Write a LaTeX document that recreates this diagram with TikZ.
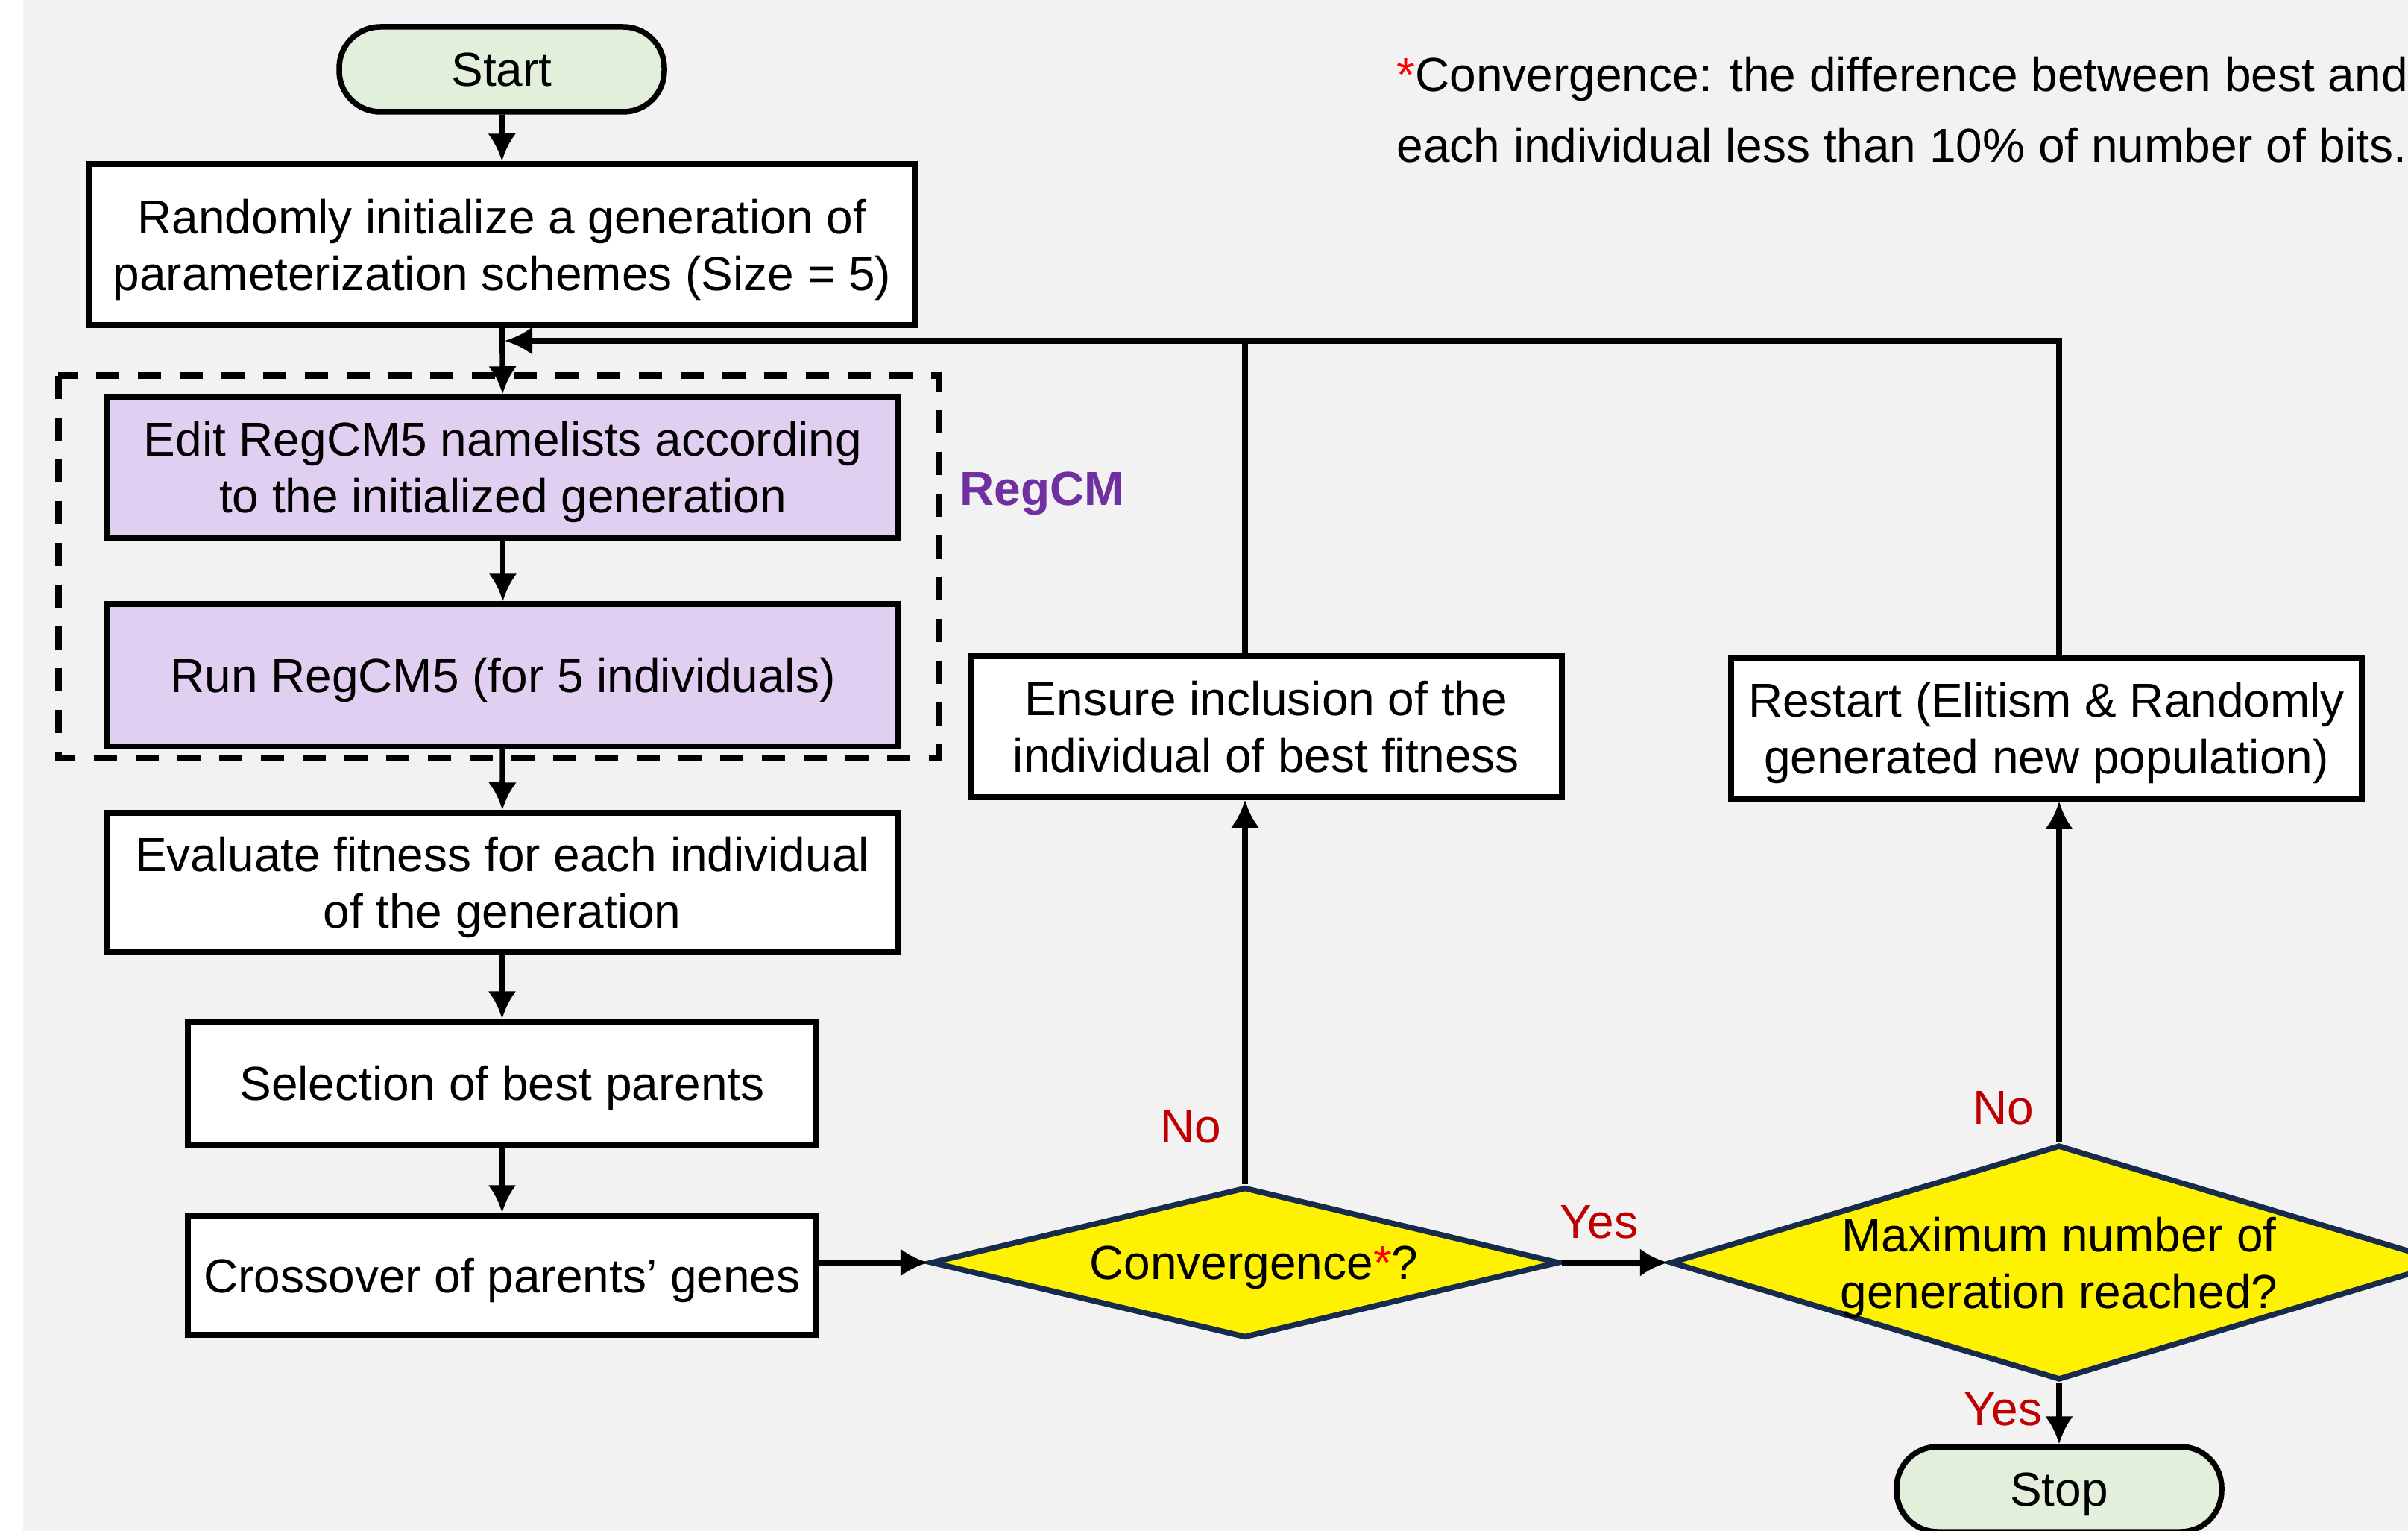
\documentclass[tikz,border=0pt]{standalone}
\usepackage{fontspec}
\setmainfont{Liberation Sans}
\usetikzlibrary{arrows.meta,shapes.geometric}

\definecolor{bggray}{HTML}{F2F2F2}
\definecolor{startgreen}{HTML}{E2EFDA}
\definecolor{lavender}{HTML}{E1CFF1}
\definecolor{regpurple}{HTML}{7030A0}
\definecolor{labred}{HTML}{C00000}
\definecolor{navy}{HTML}{172B4D}

\begin{document}
\begin{tikzpicture}[>={Latex[length=0.37cm,width=0.38cm]},
  line width=0.075cm,
  font=\fontsize{18.2pt}{21.6pt}\selectfont,
  box/.style={draw,fill=white,align=center,inner sep=0pt,text depth=0pt},
  term/.style={draw,fill=startgreen,rounded corners=0.55cm,inner sep=0pt,text depth=0pt,
    minimum width=4.36cm,minimum height=1.14cm},
  decision/.style={draw=navy,fill=yellow,diamond,inner sep=0pt},
  ans/.style={text=labred,text depth=0pt}]
  \clip (0,0) rectangle (32.30,-20.53);
  \fill[white] (0,0) rectangle (32.30,-20.53);
  \fill[bggray] (0.31,0) rectangle (32.30,-20.53);
  % left column
  \node[term] (start) at (6.73,-0.93) {Start};
  \node[box,minimum width=11.07cm,minimum height=2.16cm] (init) at (6.735,-3.28)
    {Randomly initialize a generation of\\parameterization schemes (Size = 5)};
  \node[box,fill=lavender,minimum width=10.61cm,minimum height=1.89cm] (edit) at (6.745,-6.265)
    {Edit RegCM5 namelists according\\to the initialized generation};
  \node[box,fill=lavender,minimum width=10.61cm,minimum height=1.91cm] (run) at (6.745,-9.055)
    {Run RegCM5 (for 5 individuals)};
  \node[box,minimum width=10.61cm,minimum height=1.87cm] (eval) at (6.735,-11.835)
    {Evaluate fitness for each individual\\of the generation};
  \node[box,minimum width=8.43cm,minimum height=1.65cm] (select) at (6.735,-14.525)
    {Selection of best parents};
  \node[box,minimum width=8.43cm,minimum height=1.60cm] (cross) at (6.735,-17.10)
    {Crossover of parents’ genes};
  \draw[line width=0.09cm,dash pattern=on 0.31cm off 0.25cm] (0.78,-5.04) rectangle (12.59,-10.16);
  \node[anchor=west,inner sep=0pt,text depth=0pt,text=regpurple,
    font=\fontsize{18.2pt}{21.6pt}\selectfont\bfseries] (regcm) at (12.84,-6.55) {RegCM};
  % decisions
  \node[decision,minimum width=8.43cm,minimum height=2.02cm,
    label={[text depth=0pt,xshift=0.12cm]center:Convergence\textcolor{red}{*}?}] (conv) at (16.70,-16.93) {};
  \node[decision,minimum width=10.43cm,minimum height=3.15cm,
    label={[align=center,text depth=0pt]center:Maximum number of\\generation reached?}] (max) at (27.62,-16.93) {};
  \node[box,minimum width=7.93cm,minimum height=1.89cm] (ensure) at (16.985,-9.745)
    {Ensure inclusion of the\\individual of best fitness};
  \node[box,minimum width=8.46cm,minimum height=1.89cm] (restart) at (27.45,-9.765)
    {Restart (Elitism \& Randomly\\generated new population)};
  \node[term] (stop) at (27.62,-19.97) {Stop};
  \node[anchor=base west,align=left,inner sep=0pt,font=\fontsize{18.2pt}{27.3pt}\selectfont] (note) at (18.70,-2.18)
    {\textcolor{red}{*}Convergence: the difference between best and\\each individual less than 10\% of number of bits.};
  % connectors
  \coordinate (back) at (6.77,-4.57);
  \draw[->] (start) -- (init);
  \draw[->] (init) -- (edit);
  \draw[->] (edit) -- (run);
  \draw[->] (run) -- (eval);
  \draw[->] (eval) -- (select);
  \draw[->] (select) -- (cross);
  \draw[->] (cross.east |- conv.west) -- (conv.west);
  \draw[->] (conv.east) -- (max.west);
  \draw[->] (conv.north) -- (conv.north |- ensure.south);
  \draw[->] (max.north) -- (max.north |- restart.south);
  \draw[->] (max.south) -- (stop.north);
  \draw[->] (conv.north |- ensure.north) |- (back);
  \draw (max.north |- restart.north) |- (conv.north |- back);
  % labels
  \node[ans] (no1) at (15.97,-15.10) {No};
  \node[ans] (no2) at (26.87,-14.85) {No};
  \node[ans] (yes1) at (21.45,-16.38) {Yes};
  \node[ans] (yes2) at (26.87,-18.89) {Yes};
\end{tikzpicture}
\end{document}
